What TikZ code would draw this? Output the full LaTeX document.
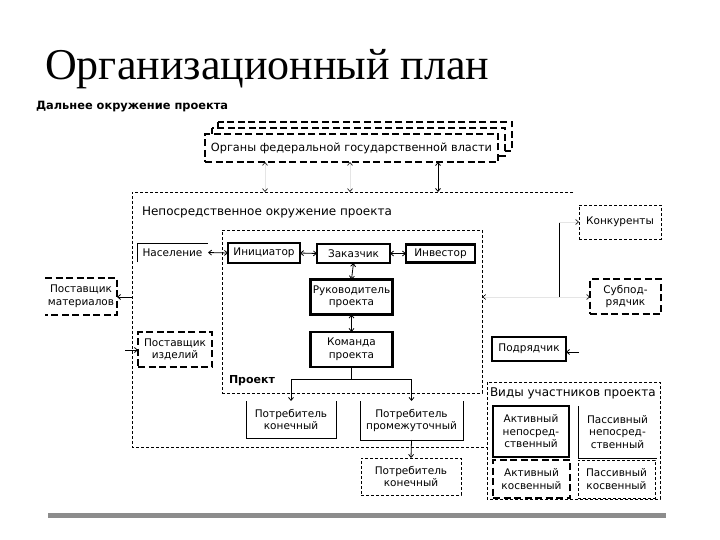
\documentclass[tikz,border=0pt]{standalone}
\usepackage{fontspec}
\setmainfont{DejaVu Sans}
\newfontfamily\titlefont{Liberation Serif}
\usetikzlibrary{arrows.meta}
\begin{document}
\begin{tikzpicture}[x=1pt,y=-1pt,
  tx/.style={font=\fontsize{10.5}{12.5}\selectfont, align=center, inner sep=0pt, outer sep=0pt},
  thickbox/.style={tx, draw, line width=2.6pt},
  thickdash/.style={tx, draw, line width=2.6pt, dash pattern=on 7pt off 3.5pt},
  thindash/.style={draw, line width=0.7pt, dash pattern=on 3pt off 2pt},
  thinline/.style={draw, line width=0.8pt},
  tipb/.tip={Straight Barb[length=3pt,width=5pt]},
  darr/.style={tipb-tipb, line width=0.8pt},
  arr/.style={-tipb, line width=0.8pt},
  faint/.style={draw=black!10, line width=0.6pt, -{Straight Barb[length=3pt,width=5pt,color=black]}},
  faintd/.style={draw=black!10, line width=0.6pt, {Straight Barb[length=3pt,width=5pt,color=black]}-{Straight Barb[length=3pt,width=5pt,color=black]}}
]
\useasboundingbox (0,0) rectangle (720,540);
\fill[white] (0,0) rectangle (720,540);

% title
\node[anchor=base west, inner sep=0pt, font=\titlefont\fontsize{44}{50}\selectfont] (title) at (45,80) {Организационный план};

% far environment
\node[tx, anchor=west, font=\bfseries\fontsize{11.4}{13}\selectfont] (far) at (36,107) {Дальнее окружение проекта};

% federal stack
\draw[thickdash, fill=white] (218,122) rectangle (512,151);
\draw[thickdash, fill=white] (212,128) rectangle (505,156);
\node[thickdash, fill=white, minimum width=293pt, minimum height=28pt, font=\fontsize{11.3}{13}\selectfont] (Fed) at (351.5,148) {Органы федеральной государственной власти};

% near environment box
\draw[thindash] (573,192) -- (132,192) -- (132,447) -- (487,447);
\node[tx, anchor=west, font=\fontsize{12}{13}\selectfont] (near) at (142,212) {Непосредственное окружение проекта};
\coordinate (n1) at (265,192);
\coordinate (n2) at (350,192);
\coordinate (n3) at (438,192);
\draw[faintd] (Fed.south -| n1) -- (n1);
\draw[faintd] (Fed.south -| n2) -- (n2);
\draw[darr] (Fed.south -| n3) -- (n3);

% project box
\node[thindash, minimum width=260pt, minimum height=163pt] (Proj) at (352,311.5) {};
\node[tx, anchor=west, font=\bfseries\fontsize{11}{13}\selectfont] (projlbl) at (229,381) {Проект};

% inner nodes
\node[tx, minimum width=71pt, minimum height=19pt] (Nas) at (172.5,252.5) {Население};
\draw[thinline] (Nas.south west) -- (Nas.north west) -- (Nas.north east);
\node[thickbox, minimum width=72pt, minimum height=20pt] (Ini) at (264,253) {Инициатор};
\node[thickbox, minimum width=73pt, minimum height=19pt] (Zak) at (353.5,253.5) {Заказчик};
\node[thickbox, minimum width=69pt, minimum height=18pt] (Inv) at (440.5,253.5) {Инвестор};
\node[thickbox, minimum width=82pt, minimum height=35pt] (Ruk) at (351.5,297) {Руководитель\\проекта};
\node[thickbox, minimum width=82pt, minimum height=35pt] (Kom) at (351.5,349.5) {Команда\\проекта};

\draw[darr] (Nas.east) -- (Ini.west);
\draw[darr] (Ini.east) -- (Zak.west);
\draw[darr] (Zak.east) -- (Inv.west);
\draw[darr] (Zak.south) -- (Ruk.north);
\draw[darr] (Ruk.south) -- (Kom.north);

% consumers
\node[tx, minimum width=90pt, minimum height=37pt] (Pk1) at (291,419.5) {Потребитель\\конечный};
\draw[thinline] (Pk1.north west) -- (Pk1.south west) -- (Pk1.south east) -- (Pk1.north east);
\node[tx, minimum width=103pt, minimum height=39pt] (Ppr) at (411.5,420.5) {Потребитель\\промежуточный};
\draw[thinline] (Ppr.north west) -- (Ppr.south west) -- (Ppr.south east) -- (Ppr.north east);
\node[tx, thindash, minimum width=100pt, minimum height=37pt] (Pk2) at (411,476.5) {Потребитель\\конечный};

\coordinate (kb) at (351.5,379);
\draw[line width=0.8pt] (Kom.south) -- (kb);
\draw[arr] (kb) -| (Pk1.north);
\draw[arr] (kb) -| (Ppr.north);
\draw[arr] (Ppr.south) -- (Pk2.north);

% left suppliers
\node[tx, minimum width=72pt, minimum height=37pt] (Pm) at (81,296.5) {Поставщик\\материалов};
\draw[line width=2.6pt, dash pattern=on 7pt off 3.5pt] (Pm.north west) -- (Pm.north east) -- (Pm.south east) -- (Pm.south west);
\coordinate (nl1) at (132,297);
\draw[arr] (nl1) -- (Pm.east |- nl1);
\node[thickdash, minimum width=74pt, minimum height=35pt] (Pi) at (175,349.5) {Поставщик\\изделий};
\coordinate (pis) at (125,350);
\draw[arr] (pis) -- (Pi.west |- pis);

% right side
\node[tx, thindash, minimum width=82pt, minimum height=34pt] (Konk) at (620,222) {Конкуренты};
\node[thickdash, minimum width=71pt, minimum height=35pt] (Subp) at (625.5,296.5) {Субпод-\\рядчик};
\node[thickbox, minimum width=74pt, minimum height=24pt] (Podr) at (529,349) {Подрядчик};
\coordinate (J) at (559,297);
\coordinate (Jt) at (559,222);
\draw[line width=0.8pt] (J) -- (Jt);
\draw[faint] (Jt) -- (Konk.west |- Jt);
\draw[faint] (J) -- (Subp.west |- J);
\draw[faint] (J) -- (Proj.east |- J);
\coordinate (ps) at (579,352);
\draw[arr] (ps) -- (Podr.east |- ps);

% kinds of participants
\draw[thindash] (487,382) rectangle (660,499);
\node[tx, anchor=west, font=\fontsize{12}{13}\selectfont] (kinds) at (490,393) {Виды участников проекта};
\node[thickbox, minimum width=76pt, minimum height=51pt] (Ak1) at (531,431.5) {Активный\\непосред-\\ственный};
\node[tx, minimum width=79pt, minimum height=52pt] (Pas1) at (617.5,432) {Пассивный\\непосред-\\ственный};
\draw[thinline] (Pas1.north west) -- (Pas1.south west) -- (Pas1.south east);
\node[thickdash, minimum width=77pt, minimum height=38pt] (Ak2) at (531.5,479) {Активный\\косвенный};
\node[tx, thindash, minimum width=77pt, minimum height=38pt] (Pas2) at (616.5,479) {Пассивный\\косвенный};

% bottom bar
\fill[black!45] (48,513) rectangle (666,518);
\end{tikzpicture}
\end{document}
